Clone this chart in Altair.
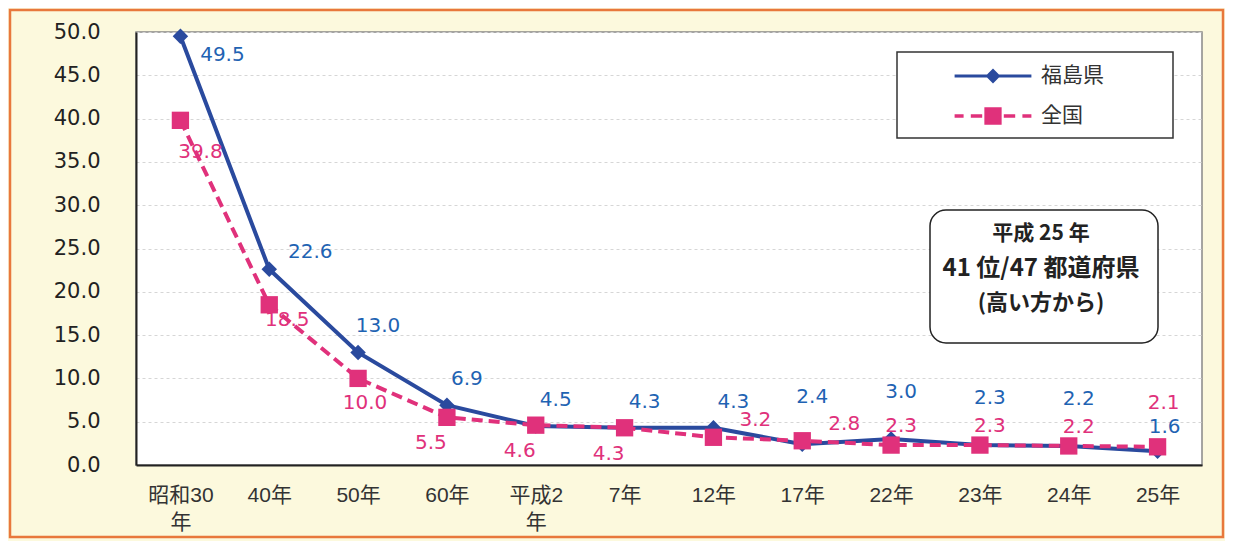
import altair as alt
import pandas as pd

CATEGORIES = ["昭和30年", "40年", "50年", "60年", "平成2年", "7年", "12年",
              "17年", "22年", "23年", "24年", "25年"]
FUKUSHIMA = [49.5, 22.6, 13.0, 6.9, 4.5, 4.3, 4.3, 2.4, 3.0, 2.3, 2.2, 1.6]
NATIONAL = [39.8, 18.5, 10.0, 5.5, 4.6, 4.3, 3.2, 2.8, 2.3, 2.3, 2.2, 2.1]
SERIES = ["福島県", "全国"]
Y_TICKS = [0, 5, 10, 15, 20, 25, 30, 35, 40, 45, 50]
ANNOTATION = ["平成 25 年", "41 位/47 都道府県", "(高い方から)"]

BLUE = "#2a4a9e"
BLUE_TXT = "#1f63b3"
PINK = "#e0317b"
NUM_FONT = "DejaVu Sans, Noto Sans CJK JP"
AX_FONT = "Liberation Sans, Noto Sans CJK JP"
JP_FONT = "Noto Sans CJK JP"

rows = []
for i, c in enumerate(CATEGORIES):
    rows.append({"cat": c, "idx": i, "series": SERIES[0], "value": FUKUSHIMA[i]})
    rows.append({"cat": c, "idx": i, "series": SERIES[1], "value": NATIONAL[i]})
df = pd.DataFrame(rows)

W, H = 1066, 433

x_enc = alt.X(
    "cat:N",
    sort=CATEGORIES,
    scale=alt.Scale(type="point", padding=0.5, domain=CATEGORIES),
    axis=alt.Axis(
        title=None, labelAngle=0, ticks=False, domainColor="#222", domainWidth=2,
        labelFont=AX_FONT, labelFontSize=21, labelColor="#333", labelPadding=30,
        labelLineHeight=27, labelBaseline="middle",
        labelExpr="length(datum.label) > 3 ? [substring(datum.label, 0, length(datum.label) - 1), '年'] : datum.label",
    ),
)
y_enc = alt.Y(
    "value:Q",
    scale=alt.Scale(domain=[0, 50], nice=False, zero=True),
    axis=alt.Axis(
        title=None, values=Y_TICKS, format=".1f", ticks=False,
        labelFont=NUM_FONT, labelFontSize=21, labelColor="#222", labelPadding=36,
        grid=True, gridColor="#d6d6d6", gridDash=[3, 3], gridWidth=1,
        domainColor="#222", domainWidth=2,
    ),
)

base = alt.Chart(df).encode(x=x_enc, y=y_enc)

one = alt.Chart(pd.DataFrame({"k": [0]}))

frame = one.mark_rect(fill="transparent", stroke="#e8783c", strokeWidth=2.5, clip=False).encode(
    x=alt.value(-126), x2=alt.value(W + 21), y=alt.value(-22), y2=alt.value(H + 72)
)

blue_line = base.transform_filter(f"datum.series == '{SERIES[0]}'").mark_line(
    color=BLUE, strokeWidth=4)
blue_pts = base.transform_filter(f"datum.series == '{SERIES[0]}'").mark_point(
    shape="diamond", filled=True, size=240, color=BLUE, opacity=1)
pink_line = base.transform_filter(f"datum.series == '{SERIES[1]}'").mark_line(
    color=PINK, strokeWidth=4, strokeDash=[11, 6])
pink_pts = base.transform_filter(f"datum.series == '{SERIES[1]}'").mark_point(
    shape="square", filled=True, size=300, color=PINK, opacity=1)

BLUE_PATH = "M-3.2,-0.13H3.2V0.13H-3.2Z M0,-0.62L0.62,0L0,0.62L-0.62,0Z"
PINK_PATH = ("M-3.2,-0.14H-2.45V0.14H-3.2Z M-1.85,-0.14H-0.9V0.14H-1.85Z "
             "M-0.72,-0.72H0.72V0.72H-0.72Z M0.9,-0.14H1.85V0.14H0.9Z M2.45,-0.14H3.2V0.14H2.45Z")

leg = alt.Legend(
    title=None, orient="none", legendX=761, legendY=20, direction="vertical",
    fillColor="white", strokeColor="#333", padding=12,
    symbolOffset=72, labelOffset=36, symbolSize=576, symbolStrokeWidth=0,
    symbolOpacity=1,
    labelFont=JP_FONT, labelFontSize=21, labelColor="#333", rowPadding=18,
    labelExpr="datum.label + '\u3000\u3000\u2800'",
)
legend_layer = base.transform_filter("datum.value < 0").mark_point(
    filled=True, size=576, opacity=1).encode(
    color=alt.Color("series:N", scale=alt.Scale(domain=SERIES, range=[BLUE, PINK]), legend=leg),
    shape=alt.Shape("series:N", scale=alt.Scale(domain=SERIES, range=[BLUE_PATH, PINK_PATH]), legend=leg),
)


def labels(series, color, idxs, dx, dy):
    return base.transform_filter(
        f"datum.series == '{series}' && indexof({idxs}, datum.idx) >= 0"
    ).mark_text(color=color, dx=dx, dy=dy, font=NUM_FONT, fontSize=20,
                align="center", baseline="middle").encode(text=alt.Text("value:Q", format=".1f"))


blue_groups = [([0], 42, 19), ([1], 41, -17), ([2, 3, 4, 5, 6], 20, -26),
               ([7, 8, 9, 10], 10, -47), ([11], 7, -24)]
pink_groups = [([0], 20, 32), ([1], 18, 15), ([2], 7, 25), ([3, 4, 5], -16, 26),
               ([6, 7], 42, -17), ([8, 9, 10], 10, -19), ([11], 6, -44)]

label_layers = [labels(SERIES[0], BLUE_TXT, g, dx, dy) for g, dx, dy in blue_groups]
label_layers += [labels(SERIES[1], PINK, g, dx, dy) for g, dx, dy in pink_groups]

box = one.mark_rect(fill="white", stroke="#222", strokeWidth=1.5, cornerRadius=16).encode(
    x=alt.value(794), x2=alt.value(1022), y=alt.value(178), y2=alt.value(311)
)
ann1 = one.mark_text(font=JP_FONT, fontWeight="bold", fontSize=21, color="#222").encode(
    x=alt.value(905), y=alt.value(202), text=alt.value(ANNOTATION[0]))
ann2 = one.mark_text(font=JP_FONT, fontWeight="bold", fontSize=24, color="#222").encode(
    x=alt.value(905), y=alt.value(237), text=alt.value(ANNOTATION[1]))
ann3 = one.mark_text(font=JP_FONT, fontWeight="bold", fontSize=22, color="#222").encode(
    x=alt.value(905), y=alt.value(271), text=alt.value(ANNOTATION[2]))

chart = alt.layer(
    frame, box, ann1, ann2, ann3, legend_layer,
    blue_line, blue_pts, pink_line, pink_pts, *label_layers
).properties(
    width=W, height=H,
    background="#fcf9dd",
    padding={"left": 128, "top": 24, "right": 23, "bottom": 76},
    autosize=alt.AutoSizeParams(type="none"),
).configure_view(
    fill="white", stroke="#888", strokeWidth=1.5
).configure_legend(strokeWidth=1.5)

chart.save("out.html", embed_options={"renderer": "svg", "actions": False})
